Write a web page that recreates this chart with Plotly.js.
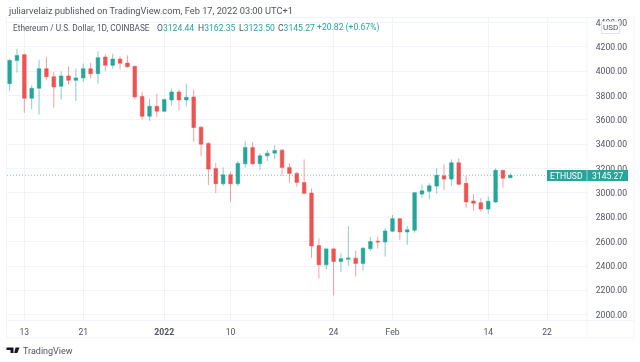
<!DOCTYPE html>
<html><head><meta charset="utf-8">
<script src="https://cdn.plot.ly/plotly-3.0.1.min.js"></script>
<style>html,body{margin:0;padding:0;background:#fff}#c{width:640px;height:362px;filter:blur(0.35px)}</style>
</head><body><div id="c"></div>
<script>
const dates = ["2021-12-11","2021-12-12","2021-12-13","2021-12-14","2021-12-15","2021-12-16","2021-12-17","2021-12-18","2021-12-19","2021-12-20","2021-12-21","2021-12-22","2021-12-23","2021-12-24","2021-12-25","2021-12-26","2021-12-27","2021-12-28","2021-12-29","2021-12-30","2021-12-31",
"2022-01-01","2022-01-02","2022-01-03","2022-01-04","2022-01-05","2022-01-06","2022-01-07","2022-01-08","2022-01-09","2022-01-10","2022-01-11","2022-01-12","2022-01-13","2022-01-14","2022-01-15","2022-01-16","2022-01-17","2022-01-18","2022-01-19","2022-01-20","2022-01-21","2022-01-22","2022-01-23","2022-01-24","2022-01-25","2022-01-26","2022-01-27","2022-01-28","2022-01-29","2022-01-30","2022-01-31",
"2022-02-01","2022-02-02","2022-02-03","2022-02-04","2022-02-05","2022-02-06","2022-02-07","2022-02-08","2022-02-09","2022-02-10","2022-02-11","2022-02-12","2022-02-13","2022-02-14","2022-02-15","2022-02-16","2022-02-17"];
const opens = [3898,4087,4136,3778,3860,4021,3955,3876,3961,3925,3945,4021,3980,4117,4048,4100,4067,4040,3792,3630,3712,
3671,3764,3830,3764,3789,3540,3407,3202,3076,3150,3076,3240,3374,3240,3305,3327,3352,3210,3161,3086,2999,2568,2410,2541,2437,2456,2465,2420,2543,2604,2598,
2686,2789,2680,2694,2991,3014,3057,3141,3114,3248,3079,2934,2920,2868,2926,3186,3124.44];
const highs = [4103,4185,4144,3884,4095,4117,3994,3999,4040,4021,4062,4070,4163,4138,4144,4122,4130,4045,3830,3772,3816,
3775,3857,3849,3898,3849,3549,3417,3248,3210,3174,3264,3426,3417,3325,3352,3393,3360,3245,3174,3276,3035,2628,2551,2551,2508,2729,2524,2555,2639,2642,2710,
2819,2795,2729,3008,3068,3079,3202,3235,3276,3286,3141,2991,2959,2969,3202,3190,3162.35];
const lows = [3838,3988,3658,3688,3644,3925,3701,3767,3887,3756,3912,3939,3898,4002,4021,4013,4029,3767,3603,3592,3625,
3666,3718,3680,3712,3420,3305,3065,3000,3059,2928,3057,3207,3229,3190,3262,3278,3141,3084,3051,2989,2467,2301,2369,2158,2350,2401,2314,2360,2524,2543,2478,
2680,2615,2574,2674,2959,2950,2997,3024,3057,3063,2877,2855,2846,2828,2918,3043,3123.50];
const closes = [4089,4130,3778,3860,4021,3955,3871,3961,3925,3945,4021,3980,4111,4048,4100,4065,4037,3789,3630,3712,3671,
3767,3830,3764,3786,3538,3401,3196,3076,3150,3076,3243,3374,3240,3305,3327,3349,3210,3161,3086,2997,2565,2410,2541,2437,2461,2465,2420,2547,2601,2598,2688,
2789,2680,2699,3002,3018,3059,3145,3114,3248,3071,2926,2915,2868,2932,3186,3122,3145.27];
const xTickVals = ["2021-12-13","2021-12-21","2022-01-01","2022-01-10","2022-01-24","2022-02-01","2022-02-14","2022-02-22"];
const xTickText = ["13","21","<b>2022</b>","10","24","Feb","14","22"];
const lastClose = 3145.27;
const GREEN="#26a69a", RED="#ef5350", GRID="#f0f3fa", TXT="#50535e", FONT="Roboto, sans-serif", FS=8.6;
const W=640,H=362,L=7,R=587,T=18,B=320;
const fx=p=>(p-L)/(R-L), fy=p=>(B-p)/(B-T);
const rectShape=(x0,y0,x1,y1,o)=>Object.assign({type:'rect',xref:'paper',yref:'paper',x0:fx(x0),x1:fx(x1),y0:fy(y0),y1:fy(y1),line:{width:0}},o);
const lineShape=(x0,y0,x1,y1,c,w)=>({type:'line',xref:'paper',yref:'paper',x0:fx(x0),x1:fx(x1),y0:fy(y0),y1:fy(y1),line:{color:c,width:w||1}});
const pathShape=(pts,c)=>({type:'path',xref:'paper',yref:'paper',fillcolor:c,line:{width:0},
  path:'M'+pts.map(p=>fx(p[0])+','+fy(p[1])).join(' L')+' Z'});
const ann=(x,y,text,o)=>Object.assign({xref:'paper',yref:'paper',x:fx(x),y:fy(y),text,showarrow:false,xanchor:'left',yanchor:'middle',borderpad:0,font:{family:FONT,size:FS,color:TXT}},o||{});
const g=s=>'<span style="color:'+GREEN+'">'+s+'</span>';
const trace={type:'candlestick',x:dates,open:opens,high:highs,low:lows,close:closes,
  width:56000000,whiskerwidth:0,
  increasing:{fillcolor:GREEN,line:{color:'rgba(38,166,154,0.55)',width:1}},
  decreasing:{fillcolor:RED,line:{color:'rgba(239,83,80,0.55)',width:1}},
  hoverinfo:'skip',showlegend:false};
const layout={width:W,height:H,margin:{l:L,r:W-R,t:T,b:H-B,pad:0},paper_bgcolor:'#fff',plot_bgcolor:'#fff',showlegend:false,
  font:{family:FONT,size:FS,color:TXT},
  xaxis:{type:'date',range:["2021-12-10 15:30","2022-02-27 10:00"],rangeslider:{visible:false},tickmode:'array',tickvals:xTickVals,ticktext:xTickText,ticks:'outside',ticklen:4,tickcolor:'rgba(0,0,0,0)',showgrid:true,gridcolor:GRID,gridwidth:1,zeroline:false,showline:false,tickfont:{family:FONT,size:FS,color:TXT}},
  yaxis:{side:'right',range:[1957,4437],tickmode:'linear',tick0:2000,dtick:200,tickformat:'.2f',ticks:'outside',ticklen:6,tickcolor:'rgba(0,0,0,0)',showgrid:true,gridcolor:GRID,gridwidth:1,zeroline:false,showline:false,tickfont:{family:FONT,size:FS,color:TXT}},
  shapes:[
    rectShape(6.5,17.5,634,338,{line:{color:GRID,width:1},layer:'below'}),
    lineShape(6.5,320.5,634,320.5,GRID,1),
    lineShape(587,17.5,587,338,GRID,1),
    {type:'line',xref:'paper',yref:'y',x0:0,x1:1,y0:lastClose,y1:lastClose,line:{color:'rgba(38,166,154,0.6)',width:1,dash:'1px,2px'}},
    rectShape(547,170,628,181,{fillcolor:GREEN}),
    lineShape(587,170,587,181,'rgba(255,255,255,0.5)',1),
    pathShape([[6.5,347.5],[13.5,347.5],[13.5,353],[10.5,353],[10.5,350],[6.5,350]],'#131722'),
    pathShape([[15.5,347.5],[19.5,347.5],[17.3,353],[14.2,353]],'#131722')
  ],
  annotations:[
    ann(6.5,10,'juliarvelaiz published on TradingView.com, Feb 17, 2022 03:00 UTC+1',{font:{family:FONT,size:9.25,color:TXT}}),
    ann(11.5,28,'Ethereum / U.S. Dollar, 1D, COINBASE',{font:{family:FONT,size:8.25,color:TXT}}),
    ann(156,28,'O'+g('3124.44')),
    ann(197,28,'H'+g('3162.35')),
    ann(237.5,28,'L'+g('3123.50')),
    ann(277,28,'C'+g('3145.27')),
    ann(316,28,g('+20.82 (+0.67%)')),
    ann(566,175.5,'ETHUSD',{xanchor:'center',font:{family:FONT,size:FS,color:'#fff'}}),
    ann(607,175.5,'3145.27',{xanchor:'center',font:{family:FONT,size:FS,color:'#fff'}}),
    ann(610.5,28,'USD',{xanchor:'center',bgcolor:'#fff',bordercolor:'#e0e3eb',borderwidth:1,borderpad:1,font:{family:FONT,size:8,color:TXT}}),
    ann(22,351,'TradingView',{font:{family:FONT,size:9,color:TXT}})
  ]};
Plotly.newPlot('c',[trace],layout,{staticPlot:true,displayModeBar:false});
</script></body></html>
